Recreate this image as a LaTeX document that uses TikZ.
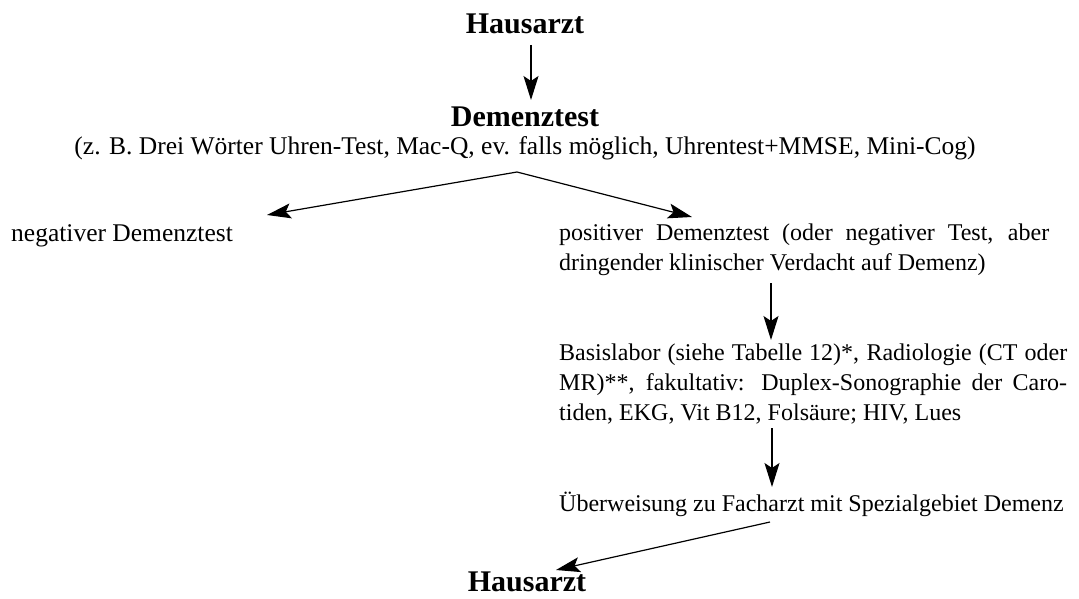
\documentclass[tikz,border=0pt]{standalone}
\usepackage{fontspec}
\setmainfont{Liberation Serif}
\usetikzlibrary{arrows.meta}
\begin{document}
\begin{tikzpicture}[x=1pt,y=-1pt,
  txt/.style={inner sep=0pt, font=\fontsize{24}{30}\selectfont},
  bigtxt/.style={inner sep=0pt, font=\fontsize{25.5}{30}\selectfont},
  block/.style={txt, align=justify},
  head/.style={inner sep=0pt, font=\fontsize{30}{34}\selectfont\bfseries},
  arr/.style={line width=1.2pt, -{Stealth[length=24pt,width=15pt,inset=5pt]}}]
\useasboundingbox (0,0) rectangle (1079,599);
\node[head, anchor=base] (h1) at (525,34) {Hausarzt};
\node[head, anchor=base] (dem) at (525,127) {Demenztest};
\node[bigtxt, anchor=base] (par) at (525,155) {(z. B. Drei Wörter Uhren-Test, Mac-Q, ev. falls möglich, Uhrentest+MMSE, Mini-Cog)};
\node[bigtxt, anchor=base west] (neg) at (11,241) {negativer Demenztest};
\node[block, text width=490pt, anchor=north west] (pos) at (559,224) {positiver Demenztest (oder negativer Test, aber\linebreak dringender klinischer Verdacht auf Demenz)};
\node[block, text width=508pt, anchor=north west] (lab) at (559,344) {Basislabor (siehe Tabelle 12)*, Radiologie (CT oder\linebreak MR)**, fakultativ: Duplex-Sonographie der Caro-\linebreak tiden, EKG, Vit B12, Folsäure; HIV, Lues};
\node[txt, anchor=base west] (ueb) at (559,511) {Überweisung zu Facharzt mit Spezialgebiet Demenz};
\node[head, anchor=base] (h2) at (527,591) {Hausarzt};
\coordinate (a1s) at (531,45);
\coordinate (a1e) at (531,100);
\coordinate (apex) at (517,172);
\coordinate (ltip) at (267,215);
\coordinate (rtip) at (692,217);
\coordinate (a3s) at (771,283);
\coordinate (a3e) at (771,340);
\coordinate (a4s) at (772,428);
\coordinate (a4e) at (772,487);
\coordinate (a5s) at (770,522);
\coordinate (a5e) at (556,570);
\draw[arr] (a1s) -- (a1e);
\draw[arr] (apex) -- (ltip);
\draw[arr] (apex) -- (rtip);
\draw[arr] (a3s) -- (a3e);
\draw[arr] (a4s) -- (a4e);
\draw[arr] (a5s) -- (a5e);
\end{tikzpicture}
\end{document}
